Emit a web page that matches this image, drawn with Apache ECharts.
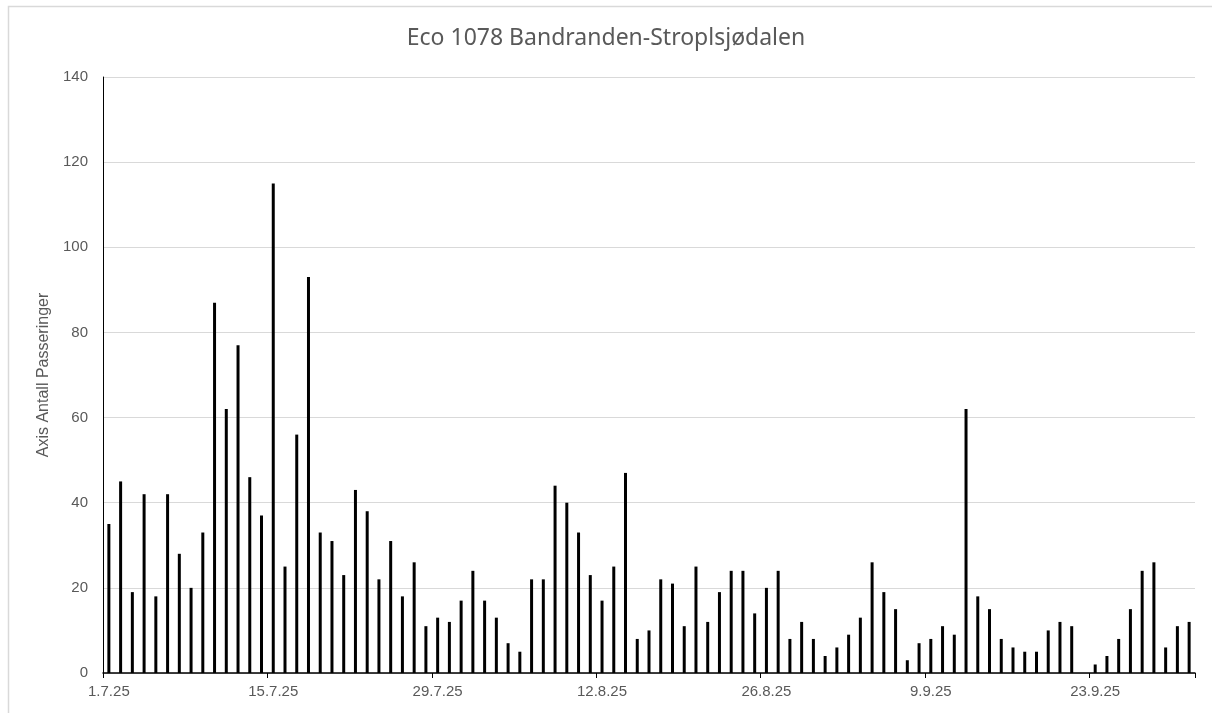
<!DOCTYPE html>
<html>
<head>
<meta charset="utf-8">
<title>Eco 1078 Bandranden-Stroplsjødalen</title>
<script src="https://cdn.jsdelivr.net/npm/echarts@6/dist/echarts.min.js"></script>
<style>
  html, body { margin: 0; padding: 0; background: #fff; }
  #chart { width: 1212px; height: 713px; }
</style>
</head>
<body>
<div id="chart"></div>
<script>
// daily counts, 1.7.25 .. 1.10.25
var julyCounts = [35, 45, 19, 42, 18, 42, 28, 20, 33, 87, 62, 77, 46, 37, 115, 25,
  56, 93, 33, 31, 23, 43, 38, 22, 31, 18, 26, 11, 13, 12, 17];
var augustCounts = [24, 17, 13, 7, 5, 22, 22, 44, 40, 33, 23, 17, 25, 47, 8, 10,
  22, 21, 11, 25, 12, 19, 24, 24, 14, 20, 24, 8, 12, 8, 4];
var septemberCounts = [6, 9, 13, 26, 19, 15, 3, 7, 8, 11, 9, 62, 18, 15, 8, 6,
  5, 5, 10, 12, 11, 0, 2, 4, 8, 15, 24, 26, 6, 11];
var octoberCounts = [12];

var months = [[7, julyCounts], [8, augustCounts], [9, septemberCounts], [10, octoberCounts]];
var yTicks = [0, 20, 40, 60, 80, 100, 120, 140];

var dates = [];
var counts = [];
months.forEach(function (m) {
  m[1].forEach(function (v, i) {
    dates.push((i + 1) + '.' + m[0] + '.25');
    counts.push(v);
  });
});

var chart = echarts.init(document.getElementById('chart'));
chart.setOption({
  animation: false,
  textStyle: { fontFamily: 'Liberation Sans' },
  graphic: [{
    type: 'rect',
    left: 6, top: 4,
    shape: { width: 1230, height: 730 },
    style: { fill: 'none', stroke: '#d9d9d9', lineWidth: 1.5 },
    silent: true
  }],
  title: {
    text: 'Eco 1078 Bandranden-Stroplsjødalen',
    left: 'center',
    top: 22,
    textStyle: { fontSize: 23, fontWeight: 'normal', color: '#595959', fontFamily: 'Noto Sans' }
  },
  grid: { left: 103, right: 17, top: 77, bottom: 40 },
  xAxis: {
    type: 'category',
    data: dates,
    boundaryGap: true,
    axisLine: { lineStyle: { color: '#000', width: 1.5 } },
    axisTick: { show: true, interval: 13, length: 5, lineStyle: { color: '#000' } },
    axisLabel: { interval: 13, color: '#595959', fontSize: 15, margin: 11 }
  },
  yAxis: {
    type: 'value',
    min: yTicks[0],
    max: yTicks[yTicks.length - 1],
    interval: 20,
    name: 'Axis Antall Passeringer',
    nameLocation: 'middle',
    nameRotate: 90,
    nameGap: 50,
    nameTextStyle: { color: '#595959', fontSize: 16 },
    axisLine: { show: true, lineStyle: { color: '#000', width: 1 } },
    axisTick: { show: false },
    axisLabel: { color: '#595959', fontSize: 15, margin: 15 },
    splitLine: { lineStyle: { color: '#d9d9d9', width: 1 } }
  },
  series: [{
    type: 'bar',
    data: counts,
    barWidth: 3,
    itemStyle: { color: '#000' }
  }]
});
</script>
</body>
</html>
